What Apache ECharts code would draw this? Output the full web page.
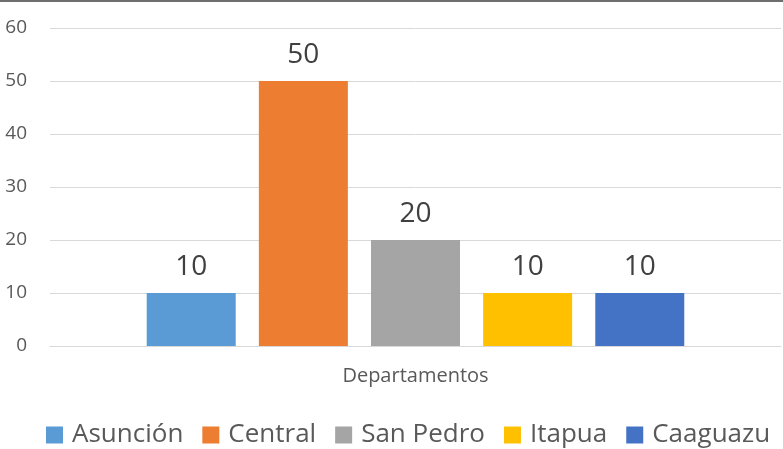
<!DOCTYPE html>
<html><head><meta charset="utf-8">
<script src="https://cdn.jsdelivr.net/npm/echarts@6/dist/echarts.min.js"></script>
<style>html,body{margin:0;padding:0;background:#fff}#c{width:783px;height:449px}</style>
</head><body><div id="c"></div>
<script>
const categories = ['Departamentos'];
const seriesNames = ['Asunción', 'Central', 'San Pedro', 'Itapua', 'Caaguazu'];
const seriesValues = [[10], [50], [20], [10], [10]];
const colors = ['#5B9BD5', '#ED7D31', '#A5A5A5', '#FFC000', '#4472C4'];
const yTicks = [0, 10, 20, 30, 40, 50, 60];
const FONT = '"Open Sans", "Noto Sans", sans-serif';
const chart = echarts.init(document.getElementById('c'));
chart.setOption({
  animation: false,
  textStyle: { fontFamily: FONT },
  graphic: [{ type: 'rect', shape: { x: 0, y: 0, width: 783, height: 2 }, style: { fill: '#6e6e6e' } }],
  grid: { left: 50, right: 2, top: 28, bottom: 103, containLabel: false },
  legend: {
    top: 417, left: 41, itemWidth: 17, itemHeight: 17, itemGap: 19,
    icon: 'rect',
    textStyle: { fontSize: 26, color: '#595959', fontFamily: FONT, padding: [0, 0, 0, 4] },
    data: seriesNames
  },
  xAxis: {
    type: 'category', data: categories,
    axisLine: { lineStyle: { color: '#D9D9D9', width: 1 } },
    axisTick: { show: false },
    axisLabel: { fontSize: 20, color: '#595959', margin: 20, fontFamily: FONT }
  },
  yAxis: {
    type: 'value', min: yTicks[0], max: yTicks[yTicks.length - 1], interval: 10,
    axisLine: { show: false }, axisTick: { show: false },
    splitLine: { lineStyle: { color: '#D9D9D9', width: 1 } },
    axisLabel: { fontSize: 19, color: '#595959', margin: 23, fontFamily: FONT }
  },
  series: seriesNames.map((n, i) => ({
    name: n, type: 'bar', data: seriesValues[i], barWidth: 89, barGap: '26%',
    itemStyle: { color: colors[i] },
    label: { show: true, position: 'top', distance: 12, fontSize: 28, color: '#404040', fontFamily: FONT }
  }))
});
</script></body></html>
